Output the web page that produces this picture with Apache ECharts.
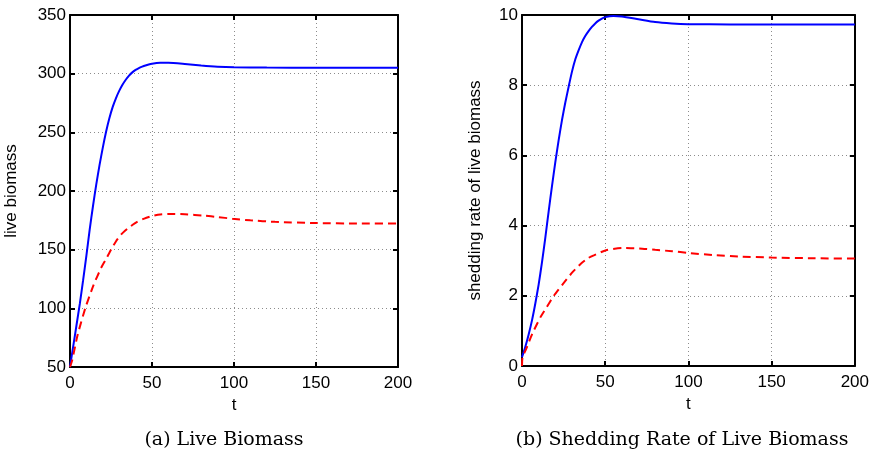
<!DOCTYPE html>
<html>
<head>
<meta charset="utf-8">
<script src="https://cdn.jsdelivr.net/npm/echarts@6/dist/echarts.min.js"></script>
<style>
html,body{margin:0;padding:0;background:#fff;}
#chart{width:872px;height:455px;}
</style>
</head>
<body>
<div id="chart"></div>
<script>
// ---- data ----
const tLiveBlue = [0, 2, 4, 6, 8, 10, 12, 14, 16, 18, 20, 22, 24, 26, 28, 30, 32, 34, 36, 38, 40, 42, 44, 46, 48, 50, 55, 60, 70, 80, 90, 100, 120, 150, 200];
const liveBlue  = [50, 68, 86, 104, 124, 145, 167, 187, 205.5, 222, 237, 250.5, 262, 271.5, 279, 285.3, 290.5, 294.8, 298.3, 301.1, 303.2, 304.8, 306, 307, 307.8, 308.4, 309.2, 309.3, 308.3, 307, 306, 305.5, 305.2, 305, 305];

const tLiveRed = [0, 1.2, 4.7, 9.3, 14.4, 19, 21.9, 25, 28, 31.1, 35, 38, 41.2, 45.3, 50.4, 55, 62, 70, 82, 90, 99, 110, 125, 150, 175, 200];
const liveRed  = [50, 55, 77.6, 100, 120, 134.5, 141.8, 150, 157, 162.8, 167.8, 171, 173.8, 176.5, 178.8, 180, 180.5, 180.2, 179, 177.8, 176.4, 175, 173.7, 172.7, 172.3, 172.2];

const tShedBlue = [0, 2, 4, 6, 8, 10, 12, 14, 16, 18, 20, 22, 24, 26, 28, 30, 32, 34, 36, 38, 40, 42, 44, 46, 48, 50, 55, 60, 70, 80, 90, 100, 125, 150, 200];
const shedBlue  = [0.25, 0.55, 0.9, 1.3, 1.78, 2.32, 2.95, 3.65, 4.4, 5.12, 5.8, 6.43, 7.0, 7.5, 7.95, 8.38, 8.73, 8.99, 9.22, 9.4, 9.54, 9.66, 9.76, 9.84, 9.9, 9.94, 9.97, 9.96, 9.88, 9.8, 9.76, 9.74, 9.73, 9.73, 9.73];

const tShedRed = [0, 0.3, 2.2, 6.2, 11.2, 15, 19.1, 24.3, 30.5, 35.5, 40, 43.5, 50.5, 60.4, 70.5, 80, 90.3, 100, 115, 130, 150, 175, 200];
const shedRed  = [0, 0.25, 0.45, 0.92, 1.40, 1.69, 2.0, 2.32, 2.68, 2.92, 3.08, 3.16, 3.30, 3.36, 3.35, 3.31, 3.27, 3.22, 3.16, 3.12, 3.09, 3.07, 3.06];

const xTicks = [0, 50, 100, 150, 200];
const yTicksLive = [50, 100, 150, 200, 250, 300, 350];
const yTicksShed = [0, 2, 4, 6, 8, 10];

const xName = 't';
const yNameLive = 'live biomass';
const yNameShed = 'shedding rate of live biomass';
const captionA = '(a) Live Biomass';
const captionB = '(b) Shedding Rate of Live Biomass';

// ---- build ----
const pairs = (xs, ys) => xs.map((x, i) => [x, ys[i]]);
const FONT = 'Liberation Sans';
const labelStyle = {color: '#000', fontFamily: FONT, fontSize: 17};
const dotted = {show: true, lineStyle: {color: '#8c8c8c', width: 1, type: [1, 3]}};
const axisLineStyle = {show: true, onZero: false, lineStyle: {color: '#000', width: 2}};
const tickStyle = {show: true, inside: true, length: 5, lineStyle: {color: '#000', width: 2}};

function mainX(grid) {
  return {type: 'value', gridIndex: grid, min: xTicks[0], max: xTicks[xTicks.length - 1], interval: xTicks[1] - xTicks[0],
    axisLine: axisLineStyle, axisTick: tickStyle, splitLine: dotted,
    axisLabel: Object.assign({margin: 8}, labelStyle),
    name: xName, nameLocation: 'middle', nameGap: 27, nameTextStyle: labelStyle};
}
function sideX(grid) {
  return {type: 'value', gridIndex: grid, position: 'top', min: xTicks[0], max: xTicks[xTicks.length - 1], interval: xTicks[1] - xTicks[0],
    axisLine: axisLineStyle, axisTick: tickStyle, splitLine: {show: false}, axisLabel: {show: false}};
}
function mainY(grid, ticks, name, gap) {
  return {type: 'value', gridIndex: grid, min: ticks[0], max: ticks[ticks.length - 1], interval: ticks[1] - ticks[0],
    axisLine: axisLineStyle, axisTick: tickStyle, splitLine: dotted,
    axisLabel: Object.assign({margin: 4}, labelStyle),
    name: name, nameLocation: 'middle', nameGap: gap, nameRotate: 90, nameTextStyle: labelStyle};
}
function sideY(grid, ticks) {
  return {type: 'value', gridIndex: grid, position: 'right', min: ticks[0], max: ticks[ticks.length - 1], interval: ticks[1] - ticks[0],
    axisLine: axisLineStyle, axisTick: tickStyle, splitLine: {show: false}, axisLabel: {show: false}};
}
function line(name, xi, yi, data, color, dashed) {
  return {name: name, type: 'line', xAxisIndex: xi, yAxisIndex: yi, data: data,
    showSymbol: false, smooth: 0.2, silent: true,
    lineStyle: {color: color, width: 2, type: dashed ? [8, 5] : 'solid'}};
}

const chart = echarts.init(document.getElementById('chart'), null, {renderer: 'canvas'});
chart.setOption({
  animation: false,
  backgroundColor: '#fff',
  grid: [
    {left: 70, top: 15, width: 328, height: 352},
    {left: 522, top: 15, width: 335, height: 351}
  ],
  xAxis: [mainX(0), mainX(1), sideX(0), sideX(1)],
  yAxis: [mainY(0, yTicksLive, yNameLive, 50), mainY(1, yTicksShed, yNameShed, 38), sideY(0, yTicksLive), sideY(1, yTicksShed)],
  series: [
    line('live blue', 0, 0, pairs(tLiveBlue, liveBlue), '#0000ff', false),
    line('live red', 0, 0, pairs(tLiveRed, liveRed), '#ff0000', true),
    line('shed blue', 1, 1, pairs(tShedBlue, shedBlue), '#0000ff', false),
    line('shed red', 1, 1, pairs(tShedRed, shedRed), '#ff0000', true)
  ],
  graphic: [
    {type: 'text', style: {text: captionA, x: 224, y: 440, textAlign: 'center', textVerticalAlign: 'middle', font: '19px "DejaVu Serif"', fill: '#000'}},
    {type: 'text', style: {text: captionB, x: 682, y: 440, textAlign: 'center', textVerticalAlign: 'middle', font: '19px "DejaVu Serif"', fill: '#000'}}
  ]
});
</script>
</body>
</html>
